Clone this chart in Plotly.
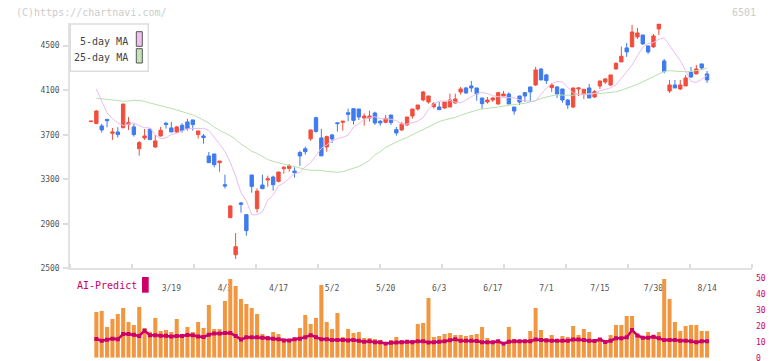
import plotly.graph_objects as go

# ---------------- data ----------------
dates = ['2/26','2/27','2/28','3/3','3/4','3/5','3/6','3/7','3/10','3/11',
         '3/12','3/13','3/14','3/17','3/18','3/19','3/21','3/24','3/25','3/26',
         '3/27','3/28','3/31','4/1','4/2','4/3','4/4','4/7','4/8','4/9',
         '4/10','4/11','4/14','4/15','4/16','4/17','4/18','4/21','4/22','4/23',
         '4/24','4/25','4/28','4/30','5/1','5/2','5/7','5/8','5/9','5/12',
         '5/13','5/14','5/15','5/16','5/19','5/20','5/21','5/22','5/23','5/26',
         '5/27','5/28','5/29','5/30','6/2','6/3','6/4','6/5','6/6','6/9',
         '6/10','6/11','6/12','6/13','6/16','6/17','6/18','6/19','6/20','6/23',
         '6/24','6/25','6/26','6/27','6/30','7/1','7/2','7/3','7/4','7/7',
         '7/8','7/9','7/10','7/11','7/14','7/15','7/16','7/17','7/18','7/22',
         '7/23','7/24','7/25','7/28','7/29','7/30','7/31','8/1','8/4','8/5',
         '8/6','8/7','8/8','8/12','8/13','8/14']

opens = [3818, 3800, 3779, 3838, 3713, 3725, 3764, 3793, 3770, 3575,
         3671, 3749, 3590, 3689, 3803, 3761, 3725, 3785, 3815, 3833,
         3701, 3689, 3509, 3527, 3449, 3251, 2955, 2622, 3087, 2982,
         3338, 3036, 3248, 3293, 3320, 3281, 3395, 3398, 3374, 3540,
         3574, 3663, 3853, 3671, 3590, 3698, 3807, 3812, 3898, 3934,
         3931, 3850, 3850, 3895, 3821, 3812, 3877, 3746, 3743, 3788,
         3868, 3931, 4012, 3994, 3952, 3949, 3940, 3949, 3985, 4084,
         4120, 4138, 4120, 4030, 3994, 4012, 3976, 4048, 4066, 3949,
         4048, 4078, 4129, 4147, 4290, 4237, 4123, 4129, 4111, 4012,
         3949, 4111, 4066, 4120, 4039, 4138, 4174, 4147, 4291, 4354,
         4480, 4489, 4578, 4596, 4498, 4489, 4650, 4363, 4093, 4147,
         4111, 4138, 4264, 4246, 4336, 4246]

highs = [3822, 3922, 3797, 3838, 3761, 3767, 3976, 3859, 3797, 3644,
         3752, 3761, 3698, 3770, 3815, 3815, 3779, 3803, 3842, 3833,
         3734, 3707, 3545, 3527, 3464, 3341, 3066, 2817, 3096, 2982,
         3338, 3218, 3341, 3332, 3332, 3365, 3419, 3437, 3407, 3557,
         3593, 3743, 3862, 3752, 3692, 3707, 3807, 3821, 3934, 3934,
         3931, 3892, 3916, 3907, 3833, 3877, 3877, 3770, 3815, 3859,
         3931, 3967, 4093, 4048, 3994, 3994, 3994, 4069, 4069, 4129,
         4129, 4183, 4120, 4030, 4039, 4039, 4084, 4093, 4081, 3949,
         4048, 4084, 4129, 4310, 4300, 4246, 4165, 4138, 4111, 4021,
         4120, 4120, 4108, 4156, 4102, 4183, 4210, 4237, 4351, 4492,
         4525, 4686, 4659, 4596, 4498, 4605, 4695, 4381, 4192, 4192,
         4192, 4237, 4309, 4327, 4336, 4273]

lows = [3818, 3800, 3719, 3767, 3653, 3674, 3755, 3743, 3683, 3512,
        3653, 3656, 3581, 3683, 3755, 3725, 3719, 3719, 3737, 3737,
        3665, 3620, 3449, 3407, 3368, 3218, 2955, 2584, 3000, 2793,
        3179, 3000, 3215, 3233, 3197, 3272, 3350, 3368, 3314, 3420,
        3521, 3645, 3718, 3510, 3548, 3626, 3728, 3737, 3821, 3791,
        3832, 3782, 3818, 3788, 3782, 3803, 3788, 3692, 3734, 3779,
        3844, 3916, 4000, 3979, 3934, 3925, 3934, 3949, 3979, 4060,
        4069, 4084, 4006, 3931, 3979, 3994, 3970, 4048, 3976, 3880,
        3967, 3994, 3994, 4138, 4192, 4156, 4084, 4030, 3988, 3931,
        3940, 4048, 4021, 4030, 4030, 4111, 4156, 4138, 4282, 4354,
        4399, 4489, 4560, 4507, 4426, 4480, 4596, 4252, 4075, 4120,
        4102, 4138, 4210, 4246, 4282, 4165]

closes = [3822, 3913, 3743, 3826, 3725, 3701, 3976, 3808, 3701, 3629,
          3689, 3656, 3644, 3740, 3791, 3725, 3770, 3737, 3755, 3791,
          3734, 3674, 3449, 3431, 3464, 3239, 3060, 2694, 3075, 2838,
          3236, 3194, 3215, 3305, 3251, 3365, 3407, 3422, 3359, 3509,
          3548, 3743, 3730, 3510, 3683, 3662, 3800, 3821, 3883, 3829,
          3859, 3868, 3868, 3806, 3806, 3847, 3809, 3716, 3797, 3859,
          3931, 3967, 4084, 4048, 3979, 3925, 3994, 4012, 4021, 4111,
          4075, 4120, 4066, 3979, 4012, 4030, 4078, 4066, 3976, 3913,
          3994, 4048, 4084, 4282, 4192, 4186, 4147, 4066, 4012, 3967,
          4120, 4120, 4108, 4030, 4087, 4183, 4201, 4237, 4342, 4405,
          4444, 4623, 4614, 4516, 4444, 4587, 4695, 4270, 4147, 4120,
          4147, 4210, 4219, 4291, 4300, 4192]

ma5 = [None, 4111, 4010, 3895, 3845, 3806, 3782, 3794, 3807, 3782,
       3763, 3761, 3697, 3664, 3672, 3704, 3711, 3734, 3753, 3756,
       3756, 3757, 3738, 3681, 3616, 3550, 3451, 3329, 3178, 3106,
       2981, 2981, 3007, 3112, 3158, 3240, 3266, 3309, 3350, 3361,
       3412, 3449, 3516, 3578, 3608, 3643, 3666, 3677, 3695, 3770,
       3799, 3838, 3852, 3861, 3846, 3841, 3839, 3827, 3797, 3795,
       3806, 3822, 3854, 3928, 3978, 4002, 4001, 4006, 3992, 3986,
       4013, 4043, 4068, 4079, 4070, 4050, 4041, 4033, 4033, 4032,
       4013, 4005, 3999, 4003, 4064, 4120, 4158, 4178, 4175, 4121,
       4076, 4062, 4057, 4065, 4069, 4093, 4106, 4122, 4148, 4210,
       4274, 4326, 4410, 4486, 4520, 4528, 4557, 4571, 4502, 4429,
       4364, 4276, 4179, 4169, 4197, 4233]

ma25 = [None, 4027, 4024, 4018, 4013, 4006, 4000, 4003, 4009, 4008,
        4000, 3985, 3974, 3961, 3949, 3936, 3922, 3909, 3895, 3878,
        3856, 3832, 3805, 3768, 3738, 3716, 3692, 3658, 3616, 3586,
        3551, 3532, 3501, 3477, 3461, 3446, 3433, 3423, 3414, 3399,
        3388, 3381, 3380, 3380, 3370, 3365, 3363, 3368, 3382, 3401,
        3415, 3440, 3472, 3519, 3548, 3587, 3612, 3636, 3656, 3676,
        3700, 3723, 3745, 3772, 3799, 3818, 3833, 3843, 3855, 3875,
        3892, 3909, 3921, 3931, 3935, 3942, 3949, 3958, 3966, 3972,
        3977, 3982, 3992, 4007, 4026, 4039, 4050, 4057, 4056, 4055,
        4054, 4062, 4067, 4071, 4071, 4070, 4075, 4078, 4085, 4099,
        4115, 4132, 4153, 4175, 4197, 4218, 4242, 4268, 4275, 4270,
        4267, 4265, 4268, 4274, 4285, 4298]

ai_bars = [None, 28.8, 29.4, 19.3, 24.4, 27.5, 31.3, 22.5, 20.6, 31.9,
           18.7, 16.4, 25.0, 16.8, 17.5, 16.2, 24.4, 13.7, 19.3, 16.2,
           22.5, 18.7, 33.2, 18.1, 18.1, 35.7, 49.6, 45.2, 37.0, 33.8,
           31.3, 27.5, 14.9, 13.7, 16.2, 14.9, 10.5, 10.5, 12.4, 18.7,
           26.9, 21.2, 25.0, 45.8, 22.5, 18.1, 28.1, 13.0, 18.1, 15.6,
           16.2, 12.4, 12.4, 11.8, 11.1, 7.4, 11.1, 13.0, 11.1, 10.5,
           11.1, 21.2, 21.9, 37.6, 13.0, 13.7, 14.9, 15.6, 14.3, 14.3,
           13.7, 14.3, 14.9, 19.3, 12.4, 10.5, 10.5, 7.4, 19.3, 11.8,
           11.1, 11.1, 16.8, 31.3, 17.4, 12.4, 14.3, 11.8, 13.7, 13.0,
           20.0, 14.3, 18.1, 16.2, 9.9, 11.8, 9.9, 14.3, 20.6, 20.6,
           26.3, 26.3, 14.3, 13.0, 16.2, 14.3, 16.2, 49.6, 37.0, 22.5,
           16.8, 20.0, 20.6, 20.6, 16.8, 16.8]

ai_line = [None, 11.8, 10.7, 11.3, 12.0, 11.6, 14.9, 14.9, 14.5, 13.7,
           17.0, 14.1, 14.1, 13.9, 13.9, 13.4, 13.7, 13.7, 14.3, 14.1,
           13.4, 13.0, 14.5, 15.3, 15.3, 15.5, 15.5, 13.7, 11.4, 12.8,
           12.8, 12.8, 12.6, 12.2, 11.9, 11.6, 10.9, 10.9, 11.6, 12.0,
           12.8, 14.2, 12.9, 11.6, 11.6, 11.1, 11.1, 11.1, 10.9, 11.1,
           10.6, 10.0, 10.4, 9.8, 9.8, 8.8, 9.4, 9.6, 9.8, 10.0,
           9.8, 10.4, 10.4, 9.6, 9.7, 10.0, 10.4, 11.0, 11.6, 10.6,
           10.6, 10.6, 10.5, 9.8, 9.7, 9.8, 10.3, 8.8, 10.0, 10.3,
           10.3, 10.4, 10.4, 11.5, 11.1, 10.9, 10.7, 10.7, 10.7, 10.7,
           11.5, 11.5, 11.2, 10.6, 10.5, 11.5, 9.9, 10.7, 12.2, 12.2,
           12.8, 17.4, 14.0, 12.6, 12.6, 13.2, 12.2, 11.1, 11.1, 11.1,
           10.7, 10.7, 10.3, 9.7, 10.3, 10.3]

label_dates = ['3/19', '4/3', '4/17', '5/2', '5/20', '6/3', '6/17', '7/1', '7/15', '7/30', '8/14']
price_ticks = [2500, 2900, 3300, 3700, 4100, 4500]
ai_ticks = [0, 10, 20, 30, 40, 50]

# ---------------- layout geometry (pixels) ----------------
W, H = 772, 361
PX_LEFT, PX_RIGHT = 70, 752
PX_FIRST, PX_STEP = 91.0, 5.357
MAIN_TOP, MAIN_BOT = 23.4, 268.3
SUB_TOP, SUB_BOT = 278.3, 357.7

def px(x):
    return x / W

def py(y):
    return 1 - y / H

xi = list(range(len(dates)))
x_range = [(PX_LEFT - PX_FIRST) / PX_STEP, (PX_RIGHT - PX_FIRST) / PX_STEP]
minor_vals = [(PX_LEFT + 62 * k - PX_FIRST) / PX_STEP for k in range(12)]

FONT = "DejaVu Sans Mono"
RED = "#F24E3D"
BLUE = "#3F7BEF"
MAGENTA = "#CC0066"
ORANGE = "#F2973F"

fig = go.Figure()

fig.add_trace(go.Candlestick(
    x=xi, open=opens, high=highs, low=lows, close=closes,
    increasing=dict(line=dict(color=RED, width=1), fillcolor=RED),
    decreasing=dict(line=dict(color=BLUE, width=1), fillcolor=BLUE),
    whiskerwidth=0, showlegend=False, hoverinfo="skip",
    xaxis="x", yaxis="y"))

fig.add_trace(go.Scatter(x=xi, y=ma25, mode="lines",
                         line=dict(color="#B9DFAC", width=1),
                         showlegend=False, hoverinfo="skip", xaxis="x", yaxis="y"))
fig.add_trace(go.Scatter(x=xi, y=ma5, mode="lines",
                         line=dict(color="#EBBCEE", width=1),
                         showlegend=False, hoverinfo="skip", xaxis="x", yaxis="y"))

fig.add_trace(go.Bar(x=xi, y=ai_bars, width=0.75, marker=dict(color=ORANGE, line=dict(width=0)),
                     showlegend=False, hoverinfo="skip", xaxis="x", yaxis="y2"))
fig.add_trace(go.Scatter(x=xi, y=ai_line, mode="lines+markers",
                         line=dict(color=MAGENTA, width=2.5),
                         marker=dict(symbol="square", size=4, color=MAGENTA),
                         showlegend=False, hoverinfo="skip", xaxis="x", yaxis="y2"))

fig.update_layout(
    width=W, height=H, autosize=False,
    margin=dict(l=0, r=0, t=0, b=0, pad=0),
    paper_bgcolor="white", plot_bgcolor="white",
    font=dict(family=FONT, size=8, color="#555555"),
    boxgap=0.1,
    bargap=0.2,
    xaxis=dict(
        domain=[px(PX_LEFT), px(PX_RIGHT)], range=x_range, anchor="y",
        showgrid=False, zeroline=False, automargin=False,
        showline=True, linecolor="#E2E2E2", linewidth=2,
        tickmode="array", tickvals=[dates.index(d) for d in label_dates], ticktext=label_dates,
        ticks="", ticklabelstandoff=11,
        tickfont=dict(family=FONT, size=8, color="#555555"),
        minor=dict(tickmode="array", tickvals=minor_vals, ticks="inside",
                   ticklen=4, tickcolor="#DDDDDD", tickwidth=1.5, showgrid=False),
        rangeslider=dict(visible=False),
    ),
    yaxis=dict(
        domain=[py(MAIN_BOT), py(MAIN_TOP)], range=[2500, 4700], anchor="x",
        showgrid=False, zeroline=False, automargin=False,
        showline=True, linecolor="#E2E2E2", linewidth=1.5,
        tickmode="array", tickvals=price_ticks,
        ticks="outside", ticklen=5, tickcolor="#DDDDDD", tickwidth=1.5,
        ticklabelstandoff=2,
        tickfont=dict(family=FONT, size=8, color="#555555"),
    ),
    yaxis2=dict(
        domain=[py(SUB_BOT), py(SUB_TOP)], range=[0, 50], anchor="x", side="right",
        showgrid=False, zeroline=False, showline=False, automargin=False,
        tickmode="array", tickvals=ai_ticks, ticks="",
        ticklabelstandoff=3, ticklabeloverflow="allow",
        tickfont=dict(family=FONT, size=8, color=MAGENTA),
    ),
)

shapes = []
annotations = []

# legend box
shapes.append(dict(type="rect", xref="paper", yref="paper",
                   x0=px(70.3), x1=px(148.3), y0=py(71.3), y1=py(24),
                   line=dict(color="#DDDDDD", width=1.5), fillcolor="white", layer="above"))
shapes.append(dict(type="rect", xref="paper", yref="paper",
                   x0=px(136.3), x1=px(142.3), y0=py(46.3), y1=py(31.7),
                   line=dict(color="#555555", width=1), fillcolor="#F0C0F0", layer="above"))
shapes.append(dict(type="rect", xref="paper", yref="paper",
                   x0=px(136.3), x1=px(142.3), y0=py(63), y1=py(48.7),
                   line=dict(color="#555555", width=1), fillcolor="#C4E4B4", layer="above"))
annotations.append(dict(text="5-day MA", xref="paper", yref="paper", x=px(130), y=py(41),
                        xanchor="right", yanchor="middle", showarrow=False,
                        font=dict(family=FONT, size=10, color="#444444")))
annotations.append(dict(text="25-day MA", xref="paper", yref="paper", x=px(130), y=py(57.3),
                        xanchor="right", yanchor="middle", showarrow=False,
                        font=dict(family=FONT, size=10, color="#444444")))

# AI-Predict label
annotations.append(dict(text="AI-Predict", xref="paper", yref="paper", x=px(75), y=py(285.7),
                        xanchor="left", yanchor="middle", showarrow=False,
                        font=dict(family=FONT, size=10, color=MAGENTA)))
shapes.append(dict(type="rect", xref="paper", yref="paper",
                   x0=px(142), x1=px(148.7), y0=py(292.7), y1=py(277),
                   line=dict(width=0), fillcolor=MAGENTA, layer="above"))

# watermark and code
annotations.append(dict(text="(C)https://chartnavi.com/", xref="paper", yref="paper",
                        x=px(13.5), y=py(12.3), xanchor="left", yanchor="middle", showarrow=False,
                        font=dict(family=FONT, size=10, color="#CCCCCC")))
annotations.append(dict(text="6501", xref="paper", yref="paper",
                        x=px(757.5), y=py(12.3), xanchor="right", yanchor="middle", showarrow=False,
                        font=dict(family=FONT, size=10, color="#CCCCCC")))

fig.update_layout(shapes=shapes, annotations=annotations)

fig.write_html("out.html", config={"displayModeBar": False, "responsive": False},
               post_script=("document.documentElement.style.margin='0';"
                            "document.body.style.margin='0';document.body.style.padding='0';"
                            "document.documentElement.style.overflow='hidden';"
                            "document.body.style.overflow='hidden';"))
